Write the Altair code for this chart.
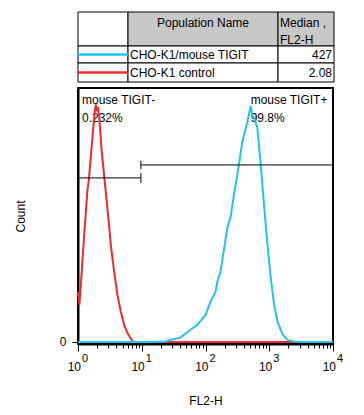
import altair as alt
import pandas as pd

FONT = "Liberation Sans"

# ---- histogram data (FL2-H value, Count) ----
red_x = [1.0, 1.05, 1.10, 1.24, 1.40, 1.49, 1.68, 1.83, 1.90, 1.97, 2.05, 2.14, 2.33, 2.63, 2.89,
         3.27, 3.69, 4.16, 4.70, 5.30, 5.97, 7.16, 8.19, 10000]
red_count = [19.7, 14.6, 21.3, 40.9, 59.1, 64.6, 80.3, 90.6, 93.5, 91.0, 92.5, 89.4, 76.4, 63.0, 52.8,
             38.2, 27.6, 18.5, 11.8, 6.7, 3.5, 0.3, 0.0, 0.0]

blue_x = [1.0, 13.6, 23.4, 28.1, 40.4, 54.6, 74.0, 100, 120, 144, 153, 172, 183, 220, 248, 279, 334,
          378, 454, 512, 545, 577, 652, 735, 828, 937, 1057, 1191, 1349, 1618, 1936, 2431, 3162, 10000]
blue_count = [0.0, 0.0, 0.2, 0.8, 1.7, 4.3, 6.7, 10.6, 15.9, 19.8, 23.7, 27.7, 32.0, 44.9, 49.3, 57.9, 69.7,
              78.9, 86.7, 92.9, 89.0, 88.2, 84.3, 69.7, 53.9, 38.2, 25.2, 14.6, 8.0, 3.0, 0.8, 0.2, 0.0, 0.0]

series_names = ["CHO-K1/mouse TIGIT", "CHO-K1 control"]
series_colors = ["#21c4ef", "#f0292c"]
medians = ["427", "2.08"]

# gates
gate_names = ["mouse TIGIT-", "mouse TIGIT+"]
gate_pcts = ["0.232%", "99.8%"]
gate_x = [1.0, 9.7]
gate_x2 = [9.7, 10000]
gate_y = [64.6, 69.7]
gate_cap_y = [62.6, 68.1]
gate_cap_y2 = [66.5, 71.3]
gate_label_x = [1.0, 442]
gate_label_y = [95.3, 95.3]
gate_pct_y = [88.2, 88.2]

decades = [1, 10, 100, 1000, 10000]
exponents = ["0", "1", "2", "3", "4"]
minor_ticks = [m * d for d in [1, 10, 100, 1000] for m in range(1, 10)] + [10000]

# ---- histogram chart ----
red_df = pd.DataFrame({"x": red_x, "count": red_count})
blue_df = pd.DataFrame({"x": blue_x, "count": blue_count})

xscale = alt.Scale(type="log", domain=[1, 10000], nice=False)
yscale = alt.Scale(domain=[-0.8, 100], nice=False, zero=False)

xaxis = alt.Axis(
    values=minor_ticks, labels=False, grid=False,
    tickSize={"condition": {"test": "indexof([1,10,100,1000,10000], datum.value) >= 0", "value": 7}, "value": 4},
    tickColor="black", tickWidth=1, domainColor="black", domainWidth=2,
    title="FL2-H", titleFont=FONT, titleFontSize=12, titleFontWeight="normal",
    titleColor="black", titlePadding=44,
)
yaxis = alt.Axis(
    values=[0], grid=False, tickSize=6, tickColor="black", domainColor="black", domainWidth=2,
    labelFont=FONT, labelFontSize=12, labelColor="black", labelPadding=6,
    title="Count", titleFont=FONT, titleFontSize=12, titleFontWeight="normal",
    titleColor="black", titlePadding=32,
)

red_line = alt.Chart(red_df).mark_line(color=series_colors[1], strokeWidth=2).encode(
    x=alt.X("x:Q", scale=xscale, axis=xaxis),
    y=alt.Y("count:Q", scale=yscale, axis=yaxis),
)
blue_line = alt.Chart(blue_df).mark_line(color=series_colors[0], strokeWidth=2).encode(
    x=alt.X("x:Q", scale=xscale),
    y=alt.Y("count:Q", scale=yscale),
)

gate_df = pd.DataFrame({"x": gate_x, "x2": gate_x2, "y": gate_y, "cy": gate_cap_y, "cy2": gate_cap_y2,
                        "name": gate_names, "pct": gate_pcts, "lx": gate_label_x,
                        "ly": gate_label_y, "py": gate_pct_y})
gate_h = alt.Chart(gate_df).mark_rule(color="black", strokeWidth=1).encode(
    x=alt.X("x:Q", scale=xscale), x2="x2:Q", y=alt.Y("y:Q", scale=yscale))
cap_df = pd.DataFrame({"x": [gate_x2[0], gate_x[1]], "y": [gate_cap_y[0], gate_cap_y[1]],
                       "y2": [gate_cap_y2[0], gate_cap_y2[1]]})
gate_v = alt.Chart(cap_df).mark_rule(color="black", strokeWidth=1).encode(
    x=alt.X("x:Q", scale=xscale), y=alt.Y("y:Q", scale=yscale), y2="y2:Q")
gate_name_t = alt.Chart(gate_df).mark_text(align="left", baseline="middle", dx=4, font=FONT,
                                           fontSize=12, color="black").encode(
    x=alt.X("lx:Q", scale=xscale), y=alt.Y("ly:Q", scale=yscale), text="name:N")
gate_pct_t = alt.Chart(gate_df).mark_text(align="left", baseline="middle", dx=4, font=FONT,
                                          fontSize=12, color="black").encode(
    x=alt.X("lx:Q", scale=xscale), y=alt.Y("py:Q", scale=yscale), text="pct:N")

lab_df = pd.DataFrame({"x": decades, "base": ["10"] * 5, "exp": exponents})
lab_base = alt.Chart(lab_df).mark_text(align="right", baseline="middle", dx=3, dy=25, font=FONT,
                                       fontSize=12, color="black").encode(
    x=alt.X("x:Q", scale=xscale), y=alt.datum(0), text="base:N")
lab_exp = alt.Chart(lab_df).mark_text(align="left", baseline="middle", dx=4, dy=17, font=FONT,
                                      fontSize=11, color="black").encode(
    x=alt.X("x:Q", scale=xscale), y=alt.datum(0), text="exp:N")

hist = alt.layer(gate_name_t, gate_pct_t, red_line, blue_line, gate_h, gate_v, lab_base, lab_exp).properties(
    width=255, height=256,
    view=alt.ViewBackground(stroke="black", strokeWidth=2),
)

# ---- table ----
col_w = [50, 150, 56]
row_h = [34, 17, 19]
cx = [0]
for w in col_w:
    cx.append(cx[-1] + w)
ry = [0]
for h in row_h:
    ry.append(ry[-1] + h)

cells = []
for r in range(3):
    for c in range(3):
        cells.append({"x": cx[c], "x2": cx[c + 1], "y": ry[r], "y2": ry[r + 1],
                      "fill": "#c8c8c8" if (r == 0 and c > 0) else "white"})
cell_df = pd.DataFrame(cells)
tx = alt.Scale(domain=[0, cx[-1]], nice=False)
ty = alt.Scale(domain=[0, ry[-1]], nice=False, reverse=True)

cell_rect = alt.Chart(cell_df).mark_rect(stroke="black", strokeWidth=1).encode(
    x=alt.X("x:Q", scale=tx, axis=None), x2="x2:Q",
    y=alt.Y("y:Q", scale=ty, axis=None), y2="y2:Q",
    fill=alt.Fill("fill:N", scale=None),
)

rows_df = pd.DataFrame({
    "name": series_names, "median": medians, "color": series_colors,
    "y": [(ry[1] + ry[2]) / 2, (ry[2] + ry[3]) / 2],
    "x0": [cx[0]] * 2, "x1": [cx[1]] * 2, "tx": [cx[1]] * 2, "mx": [cx[3]] * 2,
})
legend_lines = alt.Chart(rows_df).mark_rule(strokeWidth=2.5).encode(
    x=alt.X("x0:Q", scale=tx, axis=None), x2="x1:Q",
    y=alt.Y("y:Q", scale=ty, axis=None),
    color=alt.Color("color:N", scale=None),
)
row_names = alt.Chart(rows_df).mark_text(align="left", baseline="middle", dx=2, font=FONT,
                                         fontSize=12, color="black").encode(
    x=alt.X("tx:Q", scale=tx, axis=None), y=alt.Y("y:Q", scale=ty, axis=None), text="name:N")
row_meds = alt.Chart(rows_df).mark_text(align="right", baseline="middle", dx=-2, font=FONT,
                                        fontSize=12, color="black").encode(
    x=alt.X("mx:Q", scale=tx, axis=None), y=alt.Y("y:Q", scale=ty, axis=None), text="median:N")

head_df = pd.DataFrame({
    "text": ["Population Name", "Median ,", "FL2-H"],
    "x": [(cx[1] + cx[2]) / 2, cx[2], cx[2]],
    "y": [11, 11, 28],
})
head_center = alt.Chart(head_df.iloc[[0]]).mark_text(align="center", baseline="middle", font=FONT,
                                                    fontSize=12, color="black").encode(
    x=alt.X("x:Q", scale=tx, axis=None), y=alt.Y("y:Q", scale=ty, axis=None), text="text:N")
head_left = alt.Chart(head_df.iloc[[1, 2]]).mark_text(align="left", baseline="middle", dx=2, font=FONT,
                                                     fontSize=12, color="black").encode(
    x=alt.X("x:Q", scale=tx, axis=None), y=alt.Y("y:Q", scale=ty, axis=None), text="text:N")

table = alt.layer(cell_rect, legend_lines, row_names, row_meds, head_center, head_left).properties(
    width=cx[-1], height=ry[-1],
    view=alt.ViewBackground(stroke="transparent"),
)

chart = alt.vconcat(table, hist, spacing=4).properties(
    padding={"left": 5, "top": 3, "right": 5, "bottom": 2},
).configure(background="white")

chart.save("out.html", embed_options={"renderer": "svg", "actions": False})
